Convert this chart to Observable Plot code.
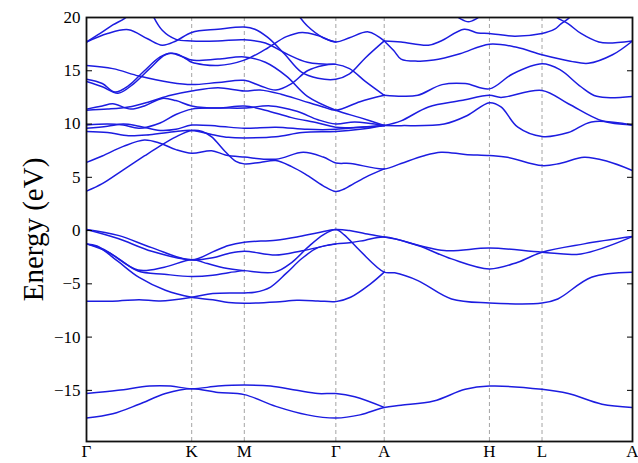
<!DOCTYPE html>
<html><head><meta charset="utf-8">
<script src="https://cdn.jsdelivr.net/npm/d3@7"></script>
<script src="https://cdn.jsdelivr.net/npm/@observablehq/plot@0.6"></script>
<style>body{margin:0;background:#fff} svg{display:block}</style>
</head><body><div id="chart"></div>
<script>
// High-symmetry path positions and labels
const kTicks = [0, 1, 1.5, 2.37, 2.83, 3.83, 4.33, 5.19];
const kLabels = ["Γ", "K", "M", "Γ", "A", "H", "L", "A"];
const eTicks = [-15, -10, -5, 0, 5, 10, 15, 20];

// Band pieces: [k, E(eV)]
const d1 = [[0,-17.6],[0.25,-17.2],[0.5,-16.3],[0.75,-15.3],[1.0,-14.85],[1.25,-15.2],[1.5,-15.4],[1.8,-16.5],[2.1,-17.3],[2.37,-17.6],[2.6,-17.3],[2.83,-16.6],[2.99,-16.4],[3.3,-16.0],[3.6,-14.9],[3.83,-14.6],[4.33,-14.9],[4.58,-15.3],[4.9,-16.3],[5.19,-16.6]];
const d2 = [[0,-15.3],[0.3,-15.0],[0.6,-14.6],[0.8,-14.6],[1.0,-14.85],[1.25,-14.6],[1.5,-14.5],[1.75,-14.6],[2.0,-15.0],[2.2,-15.3],[2.37,-15.3],[2.55,-15.6],[2.83,-16.6]];

const v1 = [[0,0.1],[0.3,-0.45],[0.62,-1.6],[1.0,-2.75],[1.2,-2.0],[1.35,-1.4],[1.5,-1.1],[1.8,-0.9],[2.0,-0.6],[2.2,-0.2],[2.37,0.1],[2.5,0.0],[2.65,-0.3],[2.83,-0.6],[2.93,-0.78],[3.4,-1.88],[3.83,-1.63],[4.33,-2.03],[4.7,-2.19],[5.19,-0.56]];
const v2 = [[0,0.1],[0.3,-0.75],[0.62,-1.95],[1.0,-2.75],[1.2,-2.55],[1.35,-2.15],[1.5,-1.94],[1.8,-2.3],[2.05,-1.9],[2.37,-1.25],[2.5,-1.15],[2.65,-0.9],[2.83,-0.6],[3.15,-1.41],[3.47,-2.66],[3.83,-3.6],[4.1,-2.97],[4.33,-2.03],[4.73,-1.25],[5.19,-0.56]];
const v3 = [[0,-1.25],[0.2,-2.0],[0.49,-3.7],[0.74,-3.44],[1.0,-2.75],[1.15,-3.1],[1.3,-3.5],[1.5,-3.76],[1.79,-3.9],[1.95,-3.0],[2.1,-1.6],[2.25,-0.4],[2.37,0.1],[2.45,-0.4],[2.6,-1.9],[2.83,-3.9],[2.93,-3.97],[3.15,-4.7],[3.47,-6.42],[3.83,-6.79],[4.33,-6.8],[4.48,-6.42],[4.8,-4.38],[5.19,-3.91]];
const v4 = [[0,-1.25],[0.15,-1.7],[0.3,-2.6],[0.49,-3.8],[0.74,-4.1],[1.0,-4.32],[1.2,-4.2],[1.35,-3.95],[1.5,-3.76]];
const v5 = [[0,-1.25],[0.1,-1.45],[0.3,-2.9],[0.5,-4.4],[0.75,-5.6],[1.0,-6.26],[1.2,-6.5],[1.35,-6.75],[1.5,-6.82],[1.8,-6.7],[2.0,-6.55],[2.2,-6.6],[2.37,-6.67],[2.51,-6.26],[2.7,-5.0],[2.83,-3.9]];
const v6 = [[0,-6.64],[0.3,-6.6],[0.5,-6.5],[0.7,-6.6],[1.0,-6.26],[1.2,-5.9],[1.5,-5.85],[1.6,-5.8],[1.75,-5.3],[1.9,-4.0],[2.05,-2.6],[2.2,-1.6],[2.37,-1.25]];

const c1 = [[0,3.7],[0.15,4.4],[0.35,5.7],[0.55,7.0],[0.7,7.95],[0.85,8.8],[1.0,9.4],[1.1,9.3],[1.19,8.8],[1.32,7.4],[1.42,6.5],[1.5,6.26],[1.65,6.4],[1.8,6.57],[1.95,6.0],[2.08,5.3],[2.25,4.2],[2.37,3.66],[2.45,3.9],[2.51,4.23],[2.65,5.0],[2.83,5.79]];
const c2 = [[0,6.4],[0.15,7.0],[0.35,7.9],[0.55,8.5],[0.7,8.2],[0.85,7.6],[1.0,7.26],[1.19,7.5],[1.32,7.1],[1.5,6.9],[1.8,6.7],[2.06,7.35],[2.25,6.9],[2.37,6.35],[2.51,6.3],[2.83,5.79],[2.99,6.3],[3.2,7.0],[3.37,7.35],[3.6,7.15],[3.83,7.04],[4.0,6.88],[4.33,6.1],[4.5,6.3],[4.73,6.88],[4.95,6.5],[5.19,5.63]];
const c3 = [[0,9.3],[0.2,9.2],[0.4,8.9],[0.6,9.0],[0.85,9.3],[1.0,9.4],[1.2,9.0],[1.35,8.75],[1.5,8.7],[1.8,8.8],[2.05,9.2],[2.37,9.3],[2.6,9.5],[2.83,9.86]];
const c4 = [[0,9.6],[0.2,9.8],[0.35,10.0],[0.5,9.8],[0.7,9.4],[0.85,9.5],[1.0,9.9],[1.25,9.8],[1.5,9.6],[1.8,9.7],[2.1,9.5],[2.37,9.5],[2.6,9.7],[2.83,9.86]];
const c5 = [[0,9.9],[0.2,10.0],[0.35,9.9],[0.5,9.6],[0.7,10.1],[0.85,10.9],[1.0,11.4],[1.25,11.5],[1.5,11.5],[1.75,11.7],[2.0,11.2],[2.2,10.4],[2.37,10.0],[2.55,10.2],[2.83,9.86]];
const c6 = [[0,11.4],[0.15,11.7],[0.25,11.9],[0.42,11.4],[0.55,11.7],[0.72,12.4],[0.85,12.2],[1.0,11.7],[1.25,11.5],[1.5,11.7],[1.7,11.3],[1.95,10.6],[2.2,10.1],[2.37,9.7],[2.6,9.7],[2.83,9.86]];
const c7 = [[0,11.3],[0.2,11.4],[0.4,11.6],[0.6,12.1],[0.8,12.7],[1.0,13.1],[1.25,13.4],[1.5,13.1],[1.65,13.2],[1.85,12.8],[2.05,12.2],[2.25,11.6],[2.37,11.3],[2.6,12.1],[2.83,12.7]];
const c8 = [[0,15.5],[0.25,15.2],[0.5,14.5],[0.8,13.9],[1.0,13.7],[1.25,13.9],[1.5,14.1],[1.65,13.6],[1.8,13.2],[1.95,13.8],[2.1,15.0],[2.25,15.5],[2.37,15.6],[2.5,15.2],[2.65,14.0],[2.83,12.7]];
const c9 = [[0,14.2],[0.15,13.8],[0.27,13.0],[0.4,13.6],[0.55,15.0],[0.7,16.3],[0.8,16.65],[0.92,16.3],[1.0,16.0],[1.25,16.1],[1.5,16.3],[1.7,15.8],[1.9,14.5],[2.1,12.6],[2.37,11.3],[2.6,10.6],[2.83,9.86]];
const c10 = [[0,14.0],[0.15,13.5],[0.3,12.9],[0.45,13.8],[0.6,15.2],[0.75,16.5],[0.85,16.6],[0.95,16.1],[1.0,15.8],[1.25,15.5],[1.5,16.0],[1.7,17.0],[1.9,18.2],[2.05,18.6],[2.2,18.3],[2.37,17.7],[2.5,18.1],[2.68,18.65],[2.83,17.8]];
const p1 = [[0,17.7],[0.13,18.5],[0.25,19.3],[0.36,19.9],[0.42,20.4]];
const p2 = [[0,17.7],[0.2,18.5],[0.4,18.85],[0.58,18.0],[0.72,17.4],[0.85,17.8],[1.0,18.6],[1.25,18.9],[1.5,19.1],[1.6,18.9],[1.72,18.15],[1.88,16.6],[2.04,14.9],[2.2,14.3],[2.37,14.2],[2.5,14.7],[2.65,16.2],[2.83,17.8]];
const t3 = [[0.62,20.4],[0.72,18.8],[0.85,17.95],[1.0,17.8],[1.25,17.8],[1.5,17.9],[1.7,17.6],[1.9,16.6],[2.1,15.8],[2.37,15.6]];
const t4 = [[2.0,20.4],[2.1,19.2],[2.25,18.1],[2.37,17.7]];

const a1 = [[2.83,17.8],[2.99,17.7],[3.25,17.4],[3.37,17.8],[3.59,18.9],[3.72,18.55],[3.83,18.5],[4.07,18.25],[4.33,18.5],[4.45,18.9],[4.51,19.4],[4.58,19.9],[4.63,20.4]];
const a1b = [[4.43,20.4],[4.47,20.0],[4.58,19.4],[4.7,18.5],[4.87,17.7],[4.96,17.6],[5.19,17.8]];
const a2 = [[2.83,17.8],[2.92,16.9],[2.99,16.1],[3.15,15.9],[3.3,16.0],[3.55,16.6],[3.83,17.5],[4.09,17.2],[4.33,16.5],[4.6,15.9],[4.77,15.7],[5.0,16.5],[5.19,17.8]];
const a3 = [[2.83,12.7],[3.0,12.6],[3.15,12.7],[3.38,13.7],[3.6,13.8],[3.83,13.3],[4.05,14.7],[4.33,15.65],[4.5,15.1],[4.7,13.5],[4.85,12.6],[5.19,12.6]];
const a4 = [[2.83,9.86],[2.99,10.3],[3.25,11.6],[3.56,12.2],[3.83,12.7],[3.94,12.5],[4.33,13.15],[4.58,11.9],[4.9,10.3],[5.19,9.9]];
const a5 = [[2.83,9.86],[2.99,9.85],[3.4,10.0],[3.62,10.8],[3.83,12.0],[3.94,11.6],[4.1,9.7],[4.33,8.83],[4.58,9.2],[4.8,10.2],[5.19,9.9]];
const a7 = [[3.5,20.3],[3.56,19.85],[3.63,19.6],[3.7,19.85],[3.76,20.3]];

const pieces = {d1,d2,v1,v2,v3,v4,v5,v6,c1,c2,c3,c4,c5,c6,c7,c8,c9,c10,p1,p2,t3,t4,a1,a1b,a2,a3,a4,a5,a7};
const rows = Object.entries(pieces).flatMap(([band, pts]) => pts.map(([k, e]) => ({band, k, e})));
const labelOf = new Map(kTicks.map((k, i) => [k, kLabels[i]]));
const fmt = d => d < 0 ? "\u2212" + Math.abs(d) : String(d);
const serif = "'Liberation Serif', 'DejaVu Serif', serif";

const chart = Plot.plot({
  width: 638, height: 463,
  marginLeft: 86, marginRight: 6, marginTop: 17, marginBottom: 22,
  style: {fontFamily: serif, background: "#fff"},
  x: {domain: [0, 5.19]},
  y: {domain: [-19.8, 20]},
  marks: [
    Plot.ruleX(kTicks.slice(1, -1), {stroke: "#9a9a9a", strokeWidth: 0.9, strokeDasharray: "4,3"}),
    Plot.line(rows, {x: "k", y: "e", z: "band", stroke: "#1c1ce0", strokeWidth: 1.5, curve: "catmull-rom", clip: true}),
    Plot.frame({stroke: "#111", strokeWidth: 1.8}),
    Plot.axisY(eTicks, {anchor: "left", tickSize: 0, tickPadding: 6, fontSize: 17, tickFormat: fmt, label: null}),
    Plot.axisY(eTicks.slice(0, -1), {anchor: "left", tickSize: -6, tickFormat: () => "", label: null}),
    Plot.axisY(eTicks.slice(0, -1), {anchor: "right", tickSize: -6, tickFormat: () => "", label: null}),
    Plot.axisX(kTicks, {anchor: "bottom", tickSize: 0, tickPadding: 3, fontSize: 17, tickFormat: d => labelOf.get(d), label: null}),
    Plot.text(["Energy (eV)"], {frameAnchor: "left", textAnchor: "middle", lineAnchor: "middle", rotate: -90, dx: -53, fontSize: 29, fontFamily: serif})
  ]
});
document.getElementById("chart").appendChild(chart);
</script>
</body></html>
